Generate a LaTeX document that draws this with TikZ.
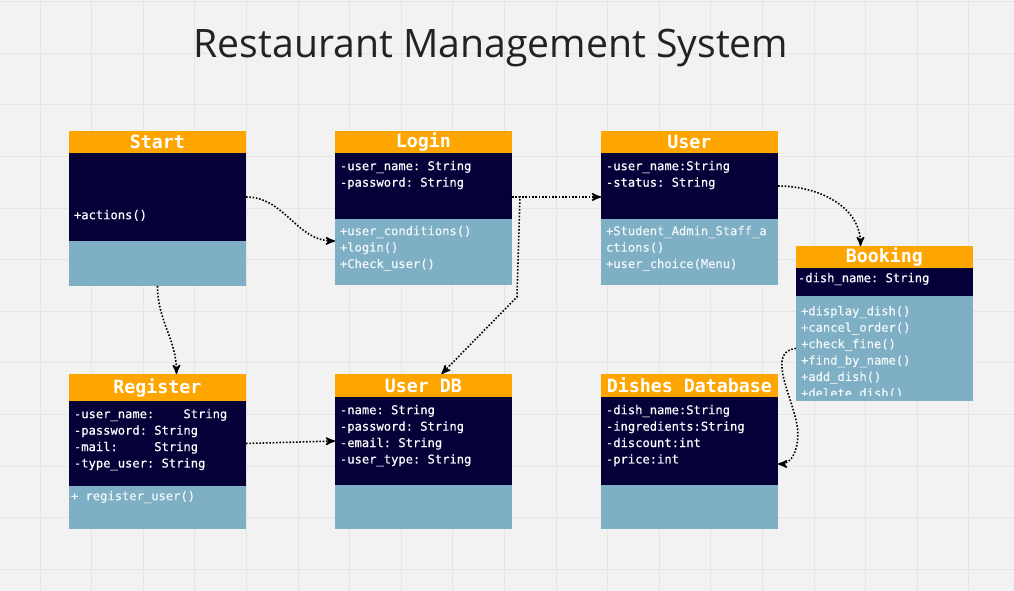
\documentclass[tikz,border=0pt]{standalone}
\usepackage{fontspec}
\usepackage{tikz}
\usetikzlibrary{arrows,positioning,calc}
\newfontfamily\umlfont{DejaVu Sans Mono}
\newfontfamily\umlmedium[FakeBold=0.4]{DejaVu Sans Mono}
\newfontfamily\titlefont{Open Sans}
\definecolor{headorange}{HTML}{FFA500}
\definecolor{attrnavy}{HTML}{050038}
\definecolor{opsblue}{HTML}{7EAFC4}
\definecolor{boardgray}{HTML}{F2F2F2}
\definecolor{gridgray}{HTML}{E5E5E5}
\definecolor{titlegray}{HTML}{222222}
\frenchspacing
\tikzset{
	every node/.style={
		inner sep=0pt,
		outer sep=0pt
	},
	classhead/.style={
		shape=rectangle,
		fill=headorange,
		minimum width=3.54cm,
		text=white,
		font=\umlfont\bfseries\fontsize{10.4}{12}\selectfont
	},
	classattr/.style={
		shape=rectangle,
		fill=attrnavy,
		minimum width=3.54cm
	},
	classops/.style={
		shape=rectangle,
		fill=opsblue,
		minimum width=3.54cm
	},
	members/.style={
		anchor=north west,
		align=left,
		text=white,
		font=\umlmedium\frenchspacing\fontsize{6.9}{9.35}\selectfont
	},
	opstext/.style={
		members,
		text=white!90!opsblue
	},
	gridline/.style={
		draw=gridgray,
		line width=0.5pt
	},
	link/.style={
		->,
		black,
		line width=0.9pt,
		dash pattern=on 0.9pt off 1pt
	}
}

\begin{document}
\begin{tikzpicture}[x=0.02cm,y=-0.02cm,>=stealth']
  \fill[boardgray] (0,0) rectangle (1014,591);
  \useasboundingbox (0,0) rectangle (1014,591);
  \foreach \gx in {0,...,18}
    \draw[gridline] ({40+51.6*\gx},0) -- ({40+51.6*\gx},591);
  \foreach \gy in {0,...,11}
    \draw[gridline] (0,{1.7+51.6*\gy}) -- (1014,{1.7+51.6*\gy});

  \node[font=\titlefont\fontsize{22.3}{26}\selectfont, text=titlegray] (title) at (491,48) {Restaurant Management System};

  \node[classhead, minimum height=0.44cm, anchor=north west] (startHead) at (69,131) {Start};
  \node[classattr, minimum height=1.76cm, below=0cm of startHead] (startAttr) {};
  \node[classops, minimum height=0.9cm, below=0cm of startAttr] (startOps) {};
  \node[members] (startAttrText) at ([shift={(0.1cm,-1.14cm)}]startAttr.north west) {+actions()};

  \node[classhead, minimum height=0.44cm, anchor=north west] (loginHead) at (335,131) {Login};
  \node[classattr, minimum height=1.32cm, below=0cm of loginHead] (loginAttr) {};
  \node[classops, minimum height=1.32cm, below=0cm of loginAttr] (loginOps) {};
  \node[members] (loginAttrText) at ([shift={(0.1cm,-0.16cm)}]loginAttr.north west) {-user\_name: String\\-password: String};
  \node[opstext] (loginOpsText) at ([shift={(0.1cm,-0.14cm)}]loginOps.north west) {+user\_conditions()\\+login()\\+Check\_user()};

  \node[classhead, minimum height=0.44cm, anchor=north west] (userHead) at (601,131) {User};
  \node[classattr, minimum height=1.32cm, below=0cm of userHead] (userAttr) {};
  \node[classops, minimum height=1.32cm, below=0cm of userAttr] (userOps) {};
  \node[members] (userAttrText) at ([shift={(0.1cm,-0.16cm)}]userAttr.north west) {-user\_name:String\\-status: String};
  \node[opstext] (userOpsText) at ([shift={(0.1cm,-0.14cm)}]userOps.north west) {+Student\_Admin\_Staff\_a\\ctions()\\+user\_choice(Menu)};

  \node[classhead, minimum height=0.44cm, anchor=north west] (bookingHead) at (796,246) {Booking};
  \node[classattr, minimum height=0.56cm, below=0cm of bookingHead] (bookingAttr) {};
  \node[classops, minimum height=2.1cm, below=0cm of bookingAttr] (bookingOps) {};
  \node[members] (bookingAttrText) at ([shift={(0.04cm,-0.1cm)}]bookingAttr.north west) {-dish\_name: String};
  \begin{scope}
    \clip (bookingOps.north west) rectangle ([yshift=0.1cm]bookingOps.south east);
    \node[opstext] (bookingOpsText) at ([shift={(0.1cm,-0.2cm)}]bookingOps.north west) {+display\_dish()\\+cancel\_order()\\+check\_fine()\\+find\_by\_name()\\+add\_dish()\\+delete\_dish()};
  \end{scope}

  \node[classhead, minimum height=0.54cm, anchor=north west] (registerHead) at (69,374) {Register};
  \node[classattr, minimum height=1.7cm, below=0cm of registerHead] (registerAttr) {};
  \node[classops, minimum height=0.86cm, below=0cm of registerAttr] (registerOps) {};
  \node[members] (registerAttrText) at ([shift={(0.1cm,-0.16cm)}]registerAttr.north west) {-user\_name:\ \ \ \ String\\-password: String\\-mail:\ \ \ \ \ String\\-type\_user: String};
  \node[opstext] (registerOpsText) at ([shift={(0.04cm,-0.1cm)}]registerOps.north west) {+ register\_user()};

  \node[classhead, minimum height=0.46cm, anchor=north west] (userdbHead) at (335,374) {User DB};
  \node[classattr, minimum height=1.76cm, below=0cm of userdbHead] (userdbAttr) {};
  \node[classops, minimum height=0.88cm, below=0cm of userdbAttr] (userdbOps) {};
  \node[members] (userdbAttrText) at ([shift={(0.1cm,-0.16cm)}]userdbAttr.north west) {-name: String\\-password: String\\-email: String\\-user\_type: String};

  \node[classhead, minimum height=0.46cm, anchor=north west] (dishesHead) at (601,374) {Dishes Database};
  \node[classattr, minimum height=1.76cm, below=0cm of dishesHead] (dishesAttr) {};
  \node[classops, minimum height=0.88cm, below=0cm of dishesAttr] (dishesOps) {};
  \node[members] (dishesAttrText) at ([shift={(0.1cm,-0.16cm)}]dishesAttr.north west) {-dish\_name:String\\-ingredients:String\\-discount:int\\-price:int};

  \coordinate (bookingBend) at (797,425);

  \draw[link] (startAttr.east) to[out=0,in=180] ([yshift=0.22cm]loginOps.west);
  \draw[link] ([yshift=-0.22cm]loginAttr.east) -- ([yshift=-0.22cm]userAttr.west);
  \draw[link] ([yshift=-0.22cm]loginAttr.east) -- ++(0.16cm,0) -- ++(-0.06cm,-2cm) -- ([xshift=0.36cm]userdbHead.north);
  \draw[link] (userAttr.east) to[out=0,in=90] ([xshift=-0.48cm]bookingHead.north);
  \draw[link] (startOps.south) to[out=-90,in=90] ([xshift=0.38cm]registerHead.north);
  \draw[link] (registerAttr.east) -- (userdbAttr.west);
  \draw[link] (bookingOps.west) to[out=185,in=100] (bookingBend) to[out=-80,in=0] ([yshift=-0.46cm]dishesAttr.east);
\end{tikzpicture}
\end{document}
